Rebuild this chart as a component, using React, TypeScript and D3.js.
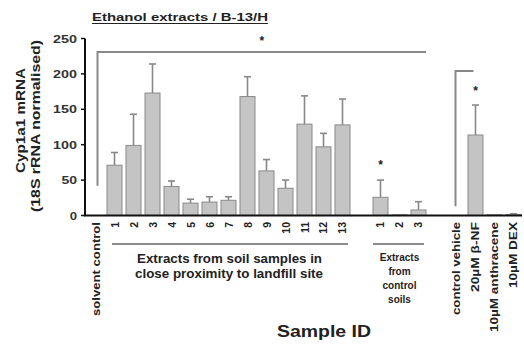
import React from 'react';
import * as d3 from 'd3';

// categories (gaps are empty slots between groups)
const categories = ['solvent control', '1', '2', '3', '4', '5', '6', '7', '8', '9', '10', '11', '12', '13',
    'gap1', 'c1', 'c2', 'c3', 'gap2', 'control vehicle', '20µM β-NF', '10µM anthracene', '10µM DEX'];
const tickLabels = ['solvent control', '1', '2', '3', '4', '5', '6', '7', '8', '9', '10', '11', '12', '13',
    '', '1', '2', '3', '', 'control vehicle', '20µM β-NF', '10µM anthracene', '10µM DEX'];
const means = [0, 71, 99, 173, 41, 17.5, 19, 21.5, 168, 63, 38.5, 129, 97, 128,
    null, 25.7, 1, 7.8, null, 0, 113.7, 1, 1.5];
const errors = [0, 89, 143, 214, 48.7, 23, 26.5, 26.5, 196, 79, 50, 169, 116, 164.5,
    null, 50, 1, 19.5, null, 0, 156, 1, 2.5];
const yTicks = [0, 50, 100, 150, 200, 250];
// significance stars: category + value
const stars = [{ key: 'c1', v: 74 }, { key: '20µM β-NF', v: 179 }];
// lengths of the long rotated labels as they appear in the picture
const longLabelLen: { [k: string]: number } = {
    'solvent control': 94, 'control vehicle': 93, '20µM β-NF': 70, '10µM anthracene': 110, '10µM DEX': 66,
};

const FONT = '"Liberation Sans", Arial, sans-serif';
const STRETCH = 'spacingAndGlyphs';

export default function App() {
    const width = 524, height = 347;
    const x = d3.scaleBand().domain(categories).range([88, 521]).paddingInner(0.21).paddingOuter(0);
    const y = d3.scaleLinear().domain([0, 250]).range([215.5, 38.5]);
    const bw = x.bandwidth();
    const cx = (k: string) => (x(k) as number) + bw / 2;

    // brackets
    const b1x0 = cx('solvent control') + 2;
    const b1x1 = (x('c3') as number) + bw;
    const b2x0 = cx('control vehicle') - 1;
    const b2x1 = cx('20µM β-NF') - 2;

    return (
        <svg width={width} height={height} style={{ position: 'absolute', left: 0, top: 0, background: '#fff' }}
            fontFamily={FONT} fontWeight="bold">
            {/* title */}
            <text x={92} y={21} fontSize={10.5} fill="#222" textLength={176} lengthAdjust={STRETCH}>Ethanol extracts / B-13/H</text>
            <line x1={92} x2={268} y1={23.5} y2={23.5} stroke="#222" strokeWidth={1} />

            {/* y label */}
            <text transform="translate(25,120.5) rotate(-90)" textAnchor="middle" fontSize={12} fill="#222"
                textLength={105} lengthAdjust={STRETCH}>Cyp1a1 mRNA</text>
            <text transform="translate(39.5,126) rotate(-90)" textAnchor="middle" fontSize={12} fill="#222"
                textLength={172} lengthAdjust={STRETCH}>(18S rRNA normalised)</text>

            {/* bars */}
            {categories.map((k, i) => {
                const m = means[i];
                if (m == null || m === 0) return null;
                const e = errors[i] as number;
                const c = cx(k);
                return (
                    <g key={k}>
                        {e > m + 0.5 && <line x1={c} x2={c} y1={y(m)} y2={y(e)} stroke="#888" strokeWidth={1.6} />}
                        {e > m + 0.5 && <line x1={c - 3.5} x2={c + 3.5} y1={y(e)} y2={y(e)} stroke="#888" strokeWidth={1.6} />}
                        <rect x={x(k)} y={y(m)} width={bw} height={y(0) - y(m)} fill="#c4c4c4" stroke="#8a8a8a" strokeWidth={1} />
                    </g>
                );
            })}

            {/* y axis */}
            <line x1={85} x2={85} y1={y(250)} y2={y(0)} stroke="#111" strokeWidth={2} />
            {yTicks.map(t => (
                <g key={t}>
                    <line x1={81} x2={85} y1={y(t)} y2={y(t)} stroke="#111" strokeWidth={1.5} />
                    <text x={77} y={y(t) + 4} textAnchor="end" fontSize={11} fill="#333"
                        textLength={String(t).length * 8.3 - 1} lengthAdjust={STRETCH}>{t}</text>
                </g>
            ))}
            {/* x axis */}
            <line x1={84} x2={522} y1={y(0)} y2={y(0)} stroke="#111" strokeWidth={2} />

            {/* x tick labels */}
            {categories.map((k, i) => {
                const lab = tickLabels[i];
                if (!lab) return null;
                const len = longLabelLen[lab];
                return (
                    <text key={k} transform={`translate(${cx(k) + 4},222) rotate(-90)`} textAnchor="end"
                        fontSize={len ? 11 : 10.5} fill="#222"
                        textLength={len} lengthAdjust={len ? STRETCH : undefined}>{lab}</text>
                );
            })}

            {/* brackets */}
            <path d={`M${b1x0},${y(42)}V${y(231)}H${b1x1}`} fill="none" stroke="#888" strokeWidth={2} />
            <text x={(b1x0 + b1x1) / 2} y={y(250) + 6} textAnchor="middle" fontSize={12} fill="#222">*</text>
            <path d={`M${b2x0},${y(13)}V${y(204)}H${b2x1}`} fill="none" stroke="#888" strokeWidth={2} />
            {stars.map(s => (
                <text key={s.key} x={cx(s.key)} y={y(s.v) + 6} textAnchor="middle" fontSize={12} fill="#222">*</text>
            ))}

            {/* group labels */}
            <line x1={(x('1') as number) + 5} x2={(x('13') as number) + bw - 2} y1={244} y2={244} stroke="#666" strokeWidth={1.5} />
            <text x={229.5} y={263} textAnchor="middle" fontSize={12} fill="#222"
                textLength={185} lengthAdjust={STRETCH}>Extracts from soil samples in</text>
            <text x={229} y={278} textAnchor="middle" fontSize={12} fill="#222"
                textLength={188} lengthAdjust={STRETCH}>close proximity to landfill site</text>
            <line x1={x('c1') as number} x2={(x('c3') as number) + bw - 2} y1={244} y2={244} stroke="#666" strokeWidth={1.5} />
            {['Extracts', 'from', 'control', 'soils'].map((w, i) => (
                <text key={w} x={cx('c2')} y={261 + i * 14} textAnchor="middle" fontSize={10} fill="#222">{w}</text>
            ))}

            <text x={324} y={337} textAnchor="middle" fontSize={17} fill="#222"
                textLength={94} lengthAdjust={STRETCH}>Sample ID</text>
        </svg>
    );
}
